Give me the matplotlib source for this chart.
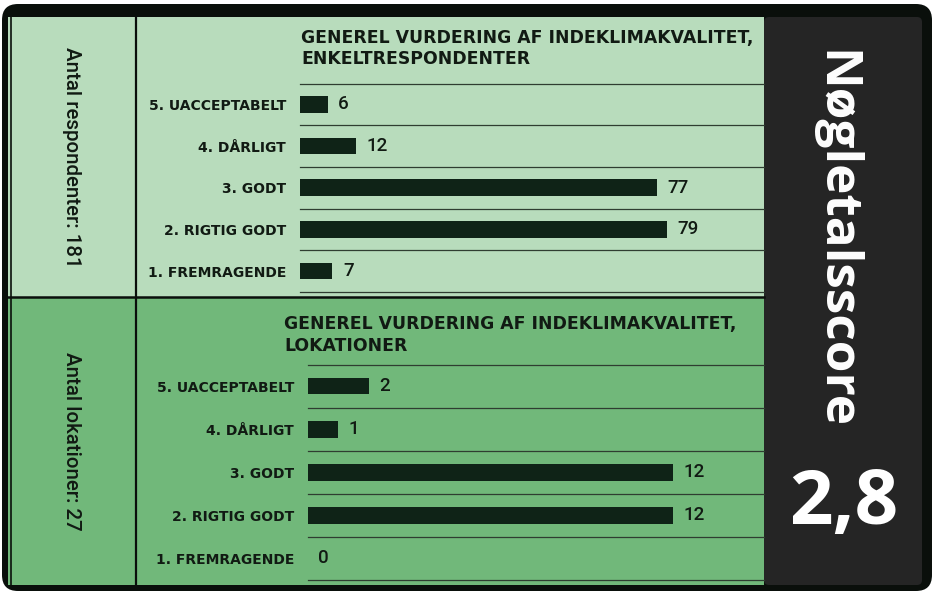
import matplotlib
matplotlib.use('Agg')
import matplotlib.pyplot as plt
from matplotlib.patches import FancyBboxPatch, Rectangle

categories = ["5. UACCEPTABELT", "4. DÅRLIGT", "3. GODT", "2. RIGTIG GODT", "1. FREMRAGENDE"]
respondent_counts = [6, 12, 77, 79, 7]
location_counts = [2, 1, 12, 12, 0]
title_top = ["GENEREL VURDERING AF INDEKLIMAKVALITET,", "ENKELTRESPONDENTER"]
title_bottom = ["GENEREL VURDERING AF INDEKLIMAKVALITET,", "LOKATIONER"]
left_top_text = "Antal respondenter: 181"
left_bottom_text = "Antal lokationer: 27"
score_label = "Nøgletalsscore"
score_value = "2,8"

LIGHT = '#b8dcbc'
MID = '#71b87a'
DARK = '#252525'
BLACK = '#0a0f0b'
BAR = '#0f2317'
TXT = '#111a13'

W, H = 935, 593
fig = plt.figure(figsize=(W / 100, H / 100), dpi=100)
fig.patch.set_facecolor('white')

bg = fig.add_axes([0, 0, 1, 1])
bg.set_xlim(0, W)
bg.set_ylim(H, 0)
bg.axis('off')

bg.add_patch(FancyBboxPatch((2, 4), 930, 587, boxstyle="round,pad=0,rounding_size=16",
                            fc=BLACK, ec='none'))
bg.add_patch(Rectangle((8, 17), 756, 280, fc=LIGHT, ec='none'))
bg.add_patch(Rectangle((8, 297), 756, 288, fc=MID, ec='none'))
bg.add_patch(FancyBboxPatch((764, 17), 158, 568, boxstyle="round,pad=0,rounding_size=5",
                            fc=DARK, ec='none'))
bg.plot([10.5, 10.5], [17, 585], color=BLACK, lw=1.2)
bg.plot([136, 136], [17, 585], color=BLACK, lw=1.6)
bg.plot([8, 764], [297, 297], color=BLACK, lw=1.8)

LEFT_FONT = ['Roboto', 'DejaVu Sans']
bg.text(71, 157, left_top_text, rotation=-90, ha='center', va='center',
        fontsize=14.8, family=LEFT_FONT, fontweight='medium', color=TXT)
bg.text(71, 441, left_bottom_text, rotation=-90, ha='center', va='center',
        fontsize=14.8, family=LEFT_FONT, fontweight='medium', color=TXT)

bg.text(834, 240, score_label, rotation=-90, ha='center', va='center',
        fontsize=37, family=['Open Sans', 'DejaVu Sans'], fontweight='bold', color='white')
bg.text(844, 504, score_value, ha='center', va='center',
        fontsize=55, family=['Open Sans', 'DejaVu Sans'], fontweight='bold', color='white')

for (x0, ys, lines) in [(301, (43.5, 64.5), title_top), (284, (329, 351), title_bottom)]:
    for y, line in zip(ys, lines):
        bg.text(x0, y, line, ha='left', va='baseline', fontsize=12.4,
                family='DejaVu Sans', fontweight='bold', color=TXT)


def px_axes(l, t, r, b):
    return fig.add_axes([l / W, 1 - b / H, (r - l) / W, (b - t) / H])


def bar_panel(ax, values, xmax, height):
    ax.set_facecolor('none')
    pos = list(range(len(categories)))
    ax.barh(pos, values, height=height, color=BAR, left=0)
    ax.set_xlim(0, xmax)
    ax.set_ylim(len(categories) - 0.5, -0.5)
    for k in range(len(categories) + 1):
        ax.axhline(k - 0.5, color='#2f3d31', lw=0.9, clip_on=False)
    for s in ax.spines.values():
        s.set_visible(False)
    ax.set_xticks([])
    ax.set_yticks(pos)
    ax.set_yticklabels(categories, fontsize=10, family='DejaVu Sans',
                       fontweight='bold', color=TXT)
    ax.tick_params(axis='y', length=0, pad=10)
    for i, v in enumerate(values):
        ax.annotate(str(v), xy=(v, i), xytext=(7.5, 0), textcoords='offset points',
                    ha='left', va='center', fontsize=13.5,
                    family=['Roboto', 'DejaVu Sans'], fontweight='medium', color=TXT)


ax1 = px_axes(300, 83.5, 764, 292)
bar_panel(ax1, respondent_counts, 100, 0.40)
ax2 = px_axes(308, 364.5, 764, 580)
bar_panel(ax2, location_counts, 15, 0.39)

fig.savefig('out.png', dpi=100, facecolor='white')
